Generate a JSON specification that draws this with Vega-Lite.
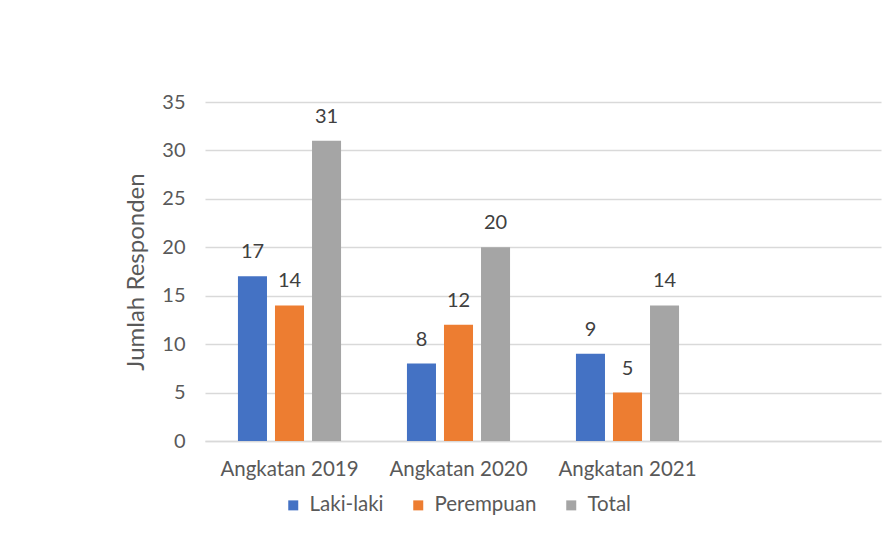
{
  "$schema": "https://vega.github.io/schema/vega-lite/v6.json",
  "width": 676,
  "height": 339,
  "autosize": {"type": "none"},
  "padding": {"left": 205, "top": 102, "right": 7, "bottom": 95},
  "background": "white",
  "config": {
    "font": "Lato",
    "view": {"stroke": null},
    "axis": {"labelFont": "Lato", "titleFont": "Lato"}
  },
  "data": {
    "values": [
      {"angkatan": "Angkatan 2019", "jenis": "Laki-laki", "jumlah": 17},
      {"angkatan": "Angkatan 2019", "jenis": "Perempuan", "jumlah": 14},
      {"angkatan": "Angkatan 2019", "jenis": "Total", "jumlah": 31},
      {"angkatan": "Angkatan 2020", "jenis": "Laki-laki", "jumlah": 8},
      {"angkatan": "Angkatan 2020", "jenis": "Perempuan", "jumlah": 12},
      {"angkatan": "Angkatan 2020", "jenis": "Total", "jumlah": 20},
      {"angkatan": "Angkatan 2021", "jenis": "Laki-laki", "jumlah": 9},
      {"angkatan": "Angkatan 2021", "jenis": "Perempuan", "jumlah": 5},
      {"angkatan": "Angkatan 2021", "jenis": "Total", "jumlah": 14}
    ]
  },
  "encoding": {
    "x": {
      "field": "angkatan",
      "type": "nominal",
      "scale": {"domain": ["Angkatan 2019", "Angkatan 2020", "Angkatan 2021", " "], "paddingInner": 0.39, "paddingOuter": 0.195},
      "axis": {
        "title": null,
        "labelAngle": 0,
        "labelFontSize": 20.5,
        "labelColor": "#595959",
        "labelPadding": 18,
        "ticks": false,
        "domain": true,
        "domainColor": "#d9d9d9",
        "domainWidth": 1.5,
        "grid": false
      }
    },
    "xOffset": {
      "field": "jenis",
      "type": "nominal",
      "scale": {"domain": ["Laki-laki", "Perempuan", "Total"], "paddingInner": 0.216, "paddingOuter": 0}
    },
    "y": {
      "field": "jumlah",
      "type": "quantitative",
      "scale": {"domain": [0, 35], "nice": false},
      "axis": {
        "title": "Jumlah Responden",
        "titleFontSize": 24,
        "titleFontWeight": "normal",
        "titleColor": "#595959",
        "titlePadding": 13,
        "values": [0, 5, 10, 15, 20, 25, 30, 35],
        "labelFontSize": 20,
        "labelColor": "#595959",
        "labelPadding": 20,
        "ticks": false,
        "domain": false,
        "gridColor": "#d9d9d9",
        "gridWidth": 1.5
      }
    }
  },
  "layer": [
    {
      "mark": {"type": "bar"},
      "encoding": {
        "color": {
          "field": "jenis",
          "type": "nominal",
          "scale": {"domain": ["Laki-laki", "Perempuan", "Total"], "range": ["#4472c4", "#ed7d31", "#a5a5a5"]},
          "legend": {
            "title": null,
            "orient": "none",
            "direction": "horizontal",
            "legendX": 78,
            "legendY": 393,
            "symbolType": "square",
            "symbolSize": 100,
            "symbolStrokeWidth": 0,
            "labelFontSize": 20.5,
            "labelColor": "#595959",
            "columnPadding": 24,
            "labelOffset": 6
          }
        }
      }
    },
    {
      "mark": {"type": "text", "baseline": "middle", "dy": -24, "fontSize": 20, "color": "#404040"},
      "encoding": {"text": {"field": "jumlah", "type": "quantitative"}}
    }
  ]
}
